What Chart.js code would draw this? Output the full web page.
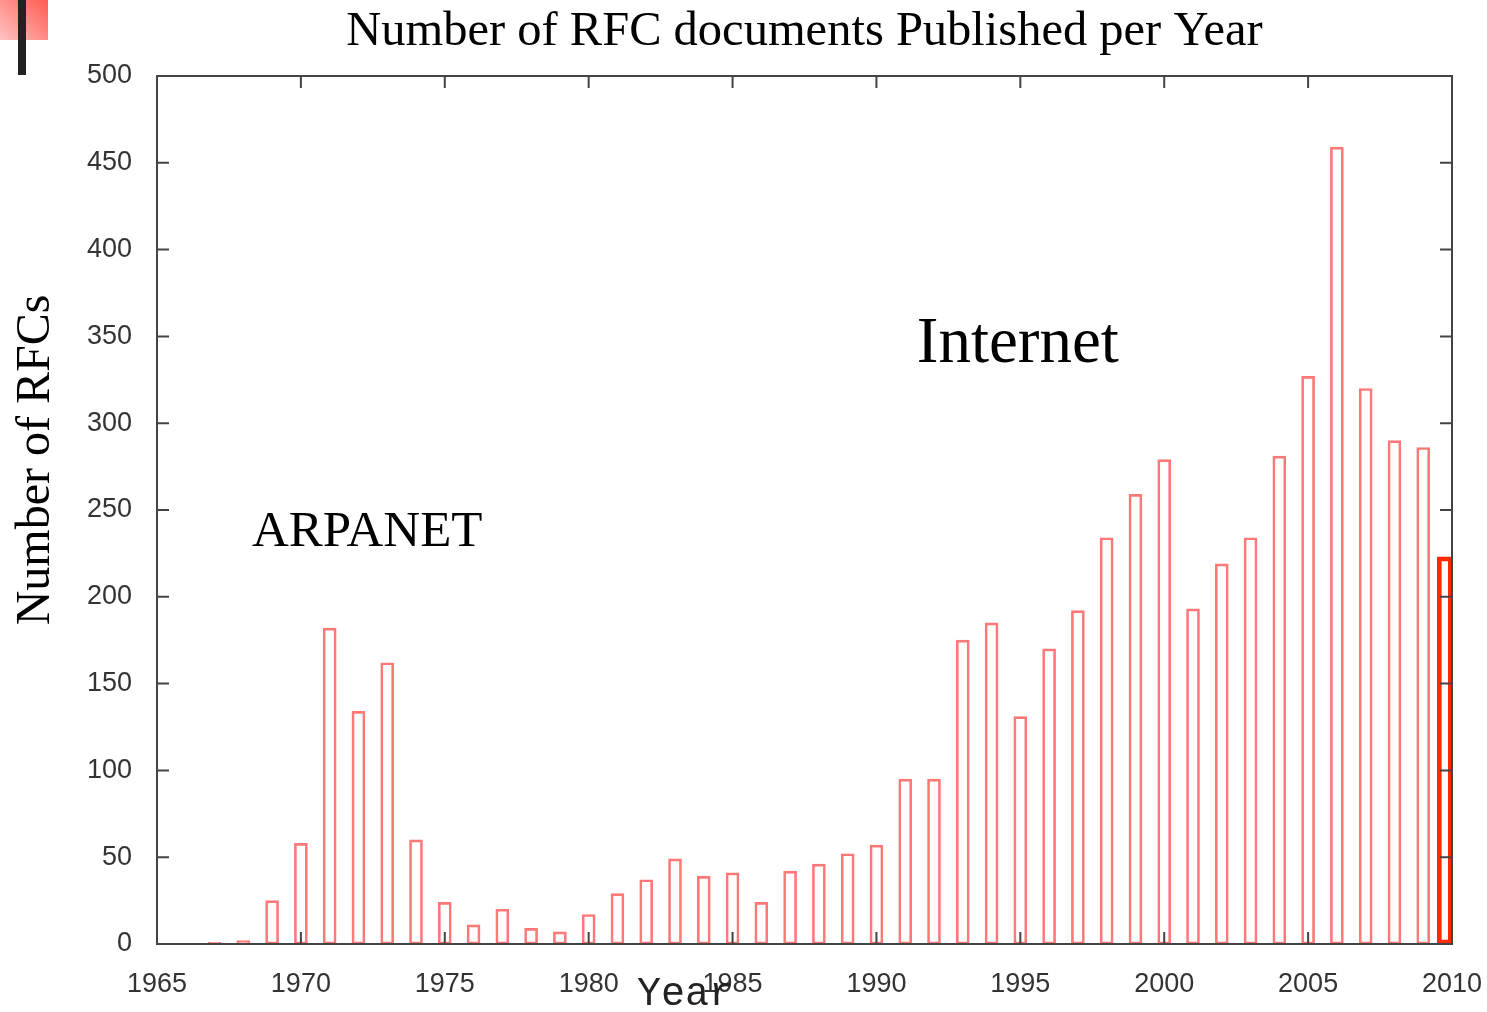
<!DOCTYPE html>
<html>
<head>
<meta charset="utf-8">
<script src="https://cdn.jsdelivr.net/npm/chart.js"></script>
<style>
    body { margin: 0; background: #fff; }
    .wrap { position: relative; width: 1487px; height: 1012px; }
    .deco-sq { position: absolute; left: 0; top: 0; width: 48px; height: 40px;
               background: linear-gradient(45deg, #ffc4c4, #ff5a50); }
    .deco-bar { position: absolute; left: 18px; top: 0; width: 8px; height: 75px; background: #222; }
</style>
</head>
<body>
<div class="wrap">
    <canvas id="rfc" width="1487" height="1012"></canvas>
    <div class="deco-sq"></div>
    <div class="deco-bar"></div>
</div>
<script>
// --- DATA ---
const years = [1967, 1968, 1969, 1970, 1971, 1972, 1973, 1974, 1975, 1976, 1977, 1978, 1979,
               1980, 1981, 1982, 1983, 1984, 1985, 1986, 1987, 1988, 1989, 1990, 1991, 1992,
               1993, 1994, 1995, 1996, 1997, 1998, 1999, 2000, 2001, 2002, 2003, 2004, 2005,
               2006, 2007, 2008, 2009];
const rfcCounts = [1, 2, 25, 58, 182, 134, 162, 60, 24, 11, 20, 9, 7,
                   17, 29, 37, 49, 39, 41, 24, 42, 46, 52, 57, 95, 95,
                   175, 185, 131, 170, 192, 234, 259, 279, 193, 219, 234, 281, 327,
                   459, 320, 290, 286];
// highlighted (partial) 2010 bar, drawn just inside the right edge
const highlightYear = [2009.75];
const highlightCount = [223];

const xTicks = [1965, 1970, 1975, 1980, 1985, 1990, 1995, 2000, 2005, 2010];
const yTicks = [0, 50, 100, 150, 200, 250, 300, 350, 400, 450, 500];

const labels = [
    { text: 'ARPANET',  x: 1968.3, y: 229, font: '51px "Liberation Serif"' },
    { text: 'Internet', x: 1991.4, y: 335, font: '65px "Liberation Serif"' }
];

// --- PLUGINS ---
const framePlugin = {
    id: 'frame',
    afterDraw(chart) {
        const { ctx, chartArea: a, scales: { x, y } } = chart;
        ctx.save();
        ctx.strokeStyle = '#444';
        ctx.lineWidth = 2;
        ctx.strokeRect(a.left, a.top, a.right - a.left, a.bottom - a.top);
        ctx.beginPath();
        xTicks.forEach(v => {
            const px = x.getPixelForValue(v);
            ctx.moveTo(px, a.bottom); ctx.lineTo(px, a.bottom - 12);
            ctx.moveTo(px, a.top); ctx.lineTo(px, a.top + 12);
        });
        yTicks.forEach(v => {
            const py = y.getPixelForValue(v);
            ctx.moveTo(a.left, py); ctx.lineTo(a.left + 12, py);
            ctx.moveTo(a.right, py); ctx.lineTo(a.right - 12, py);
        });
        ctx.stroke();

        // titles
        ctx.fillStyle = '#000';
        ctx.textAlign = 'center';
        ctx.textBaseline = 'alphabetic';
        ctx.font = '48.5px "Liberation Serif"';
        ctx.fillText('Number of RFC documents Published per Year', (a.left + a.right) / 2, 45);

        ctx.font = '40px "Courier New", Courier, "Nimbus Mono PS", FreeMono, "Liberation Mono", monospace';
        ctx.fillStyle = '#222';
        ctx.fillText('Year', 685, 1005);

        ctx.save();
        ctx.translate(49, 460);
        ctx.rotate(-Math.PI / 2);
        ctx.fillStyle = '#000';
        ctx.font = '48px "Liberation Serif"';
        ctx.fillText('Number of RFCs', 0, 0);
        ctx.restore();

        // annotations
        ctx.textAlign = 'left';
        ctx.fillStyle = '#000';
        labels.forEach(l => {
            ctx.font = l.font;
            ctx.fillText(l.text, x.getPixelForValue(l.x), y.getPixelForValue(l.y));
        });
        ctx.restore();
    }
};

const bgPlugin = {
    id: 'bg',
    beforeDraw(chart) {
        const ctx = chart.ctx;
        ctx.save();
        ctx.fillStyle = '#fff';
        ctx.fillRect(0, 0, chart.width, chart.height);
        ctx.restore();
    }
};

// --- CHART ---
const ctx = document.getElementById('rfc').getContext('2d');
new Chart(ctx, {
    type: 'bar',
    data: {
        datasets: [
            {
                label: 'RFCs',
                data: years.map((yr, i) => ({ x: yr, y: rfcCounts[i] })),
                backgroundColor: 'rgba(255,255,255,0)',
                borderColor: '#ff7878',
                borderWidth: 2,
                borderSkipped: false,
                barThickness: 13,
                grouped: false
            },
            {
                label: '2010',
                data: highlightYear.map((yr, i) => ({ x: yr, y: highlightCount[i] })),
                backgroundColor: 'rgba(255,255,255,0)',
                borderColor: '#ff2a00',
                borderWidth: 4,
                borderSkipped: false,
                barThickness: 15,
                grouped: false
            }
        ]
    },
    options: {
        responsive: false,
        animation: false,
        devicePixelRatio: 1,
        layout: { padding: { left: 0, right: 35, top: 76, bottom: 0 } },
        plugins: { legend: { display: false }, tooltip: { enabled: false } },
        scales: {
            x: {
                type: 'linear',
                min: 1965, max: 2010,
                offset: false,
                grid: { display: false },
                border: { display: false },
                afterBuildTicks: s => { s.ticks = xTicks.map(v => ({ value: v })); },
                afterFit: s => { s.height = 68; s.paddingLeft = 0; s.paddingRight = 0; },
                ticks: {
                    autoSkip: false, maxRotation: 0,
                    padding: 16,
                    color: '#333',
                    font: { family: '"Liberation Sans"', size: 27 },
                    callback: v => String(v)
                }
            },
            y: {
                min: 0, max: 500,
                grid: { display: false },
                border: { display: false },
                afterBuildTicks: s => { s.ticks = yTicks.map(v => ({ value: v })); },
                afterFit: s => { s.width = 157; s.paddingTop = 0; s.paddingBottom = 0; },
                ticks: {
                    padding: 17,
                    color: '#333',
                    font: { family: '"Liberation Sans"', size: 27 },
                    callback: v => String(v)
                }
            }
        }
    },
    plugins: [bgPlugin, framePlugin]
});
</script>
</body>
</html>
